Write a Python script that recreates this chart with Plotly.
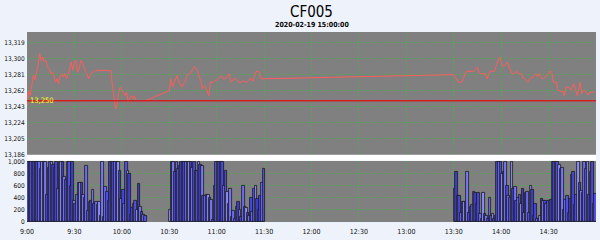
import plotly.graph_objects as go
import pandas as pd

# ---------------- data ----------------
title_text = "CF005"
subtitle_text = "2020-02-19 15:00:00"
prev_settle = 13250

price_ticks = [13186, 13205, 13224, 13243, 13262, 13281, 13300, 13319]
volume_ticks = [0, 200, 400, 600, 800, 1000]

# minute prices, session 1: 09:00 - 10:15
prices_s1 = [
    13244, 13262, 13256, 13268, 13280, 13275, 13284, 13292, 13306, 13298,
    13302, 13296, 13298, 13290, 13288, 13282, 13284, 13280, 13272, 13276,
    13270, 13280, 13282, 13278, 13282, 13276, 13280, 13290, 13296, 13286,
    13296, 13298, 13284, 13288, 13298, 13296, 13290, 13284, 13282, 13276,
    13280, 13284, 13284, 13286, 13286, 13286, 13286, 13286, 13286, 13286,
    13286, 13286, 13286, 13286, 13270, 13256, 13240, 13244, 13260, 13266,
    13262, 13258, 13256, 13260, 13248, 13254, 13256, 13252, 13256, 13250,
    13250, 13250, 13250, 13250, 13250, 13250,
]
# session 2: 10:30 - 11:30
prices_s2 = [
    13262, 13276, 13266, 13270, 13276, 13280, 13272, 13268, 13266, 13270,
    13272, 13278, 13282, 13282, 13284, 13288, 13291, 13288, 13285, 13278,
    13273, 13264, 13268, 13266, 13260, 13256, 13272, 13272, 13272, 13274,
    13274, 13276, 13278, 13280, 13276, 13276, 13277, 13280, 13282, 13272,
    13274, 13276, 13276, 13274, 13272, 13272, 13272, 13274, 13272, 13272,
    13274, 13276, 13276, 13273, 13280, 13285, 13285, 13284, 13276, 13276,
    13276,
]
# session 3: 13:30 - 14:59
prices_s3 = [
    13281, 13278, 13274, 13272, 13272, 13272, 13276, 13280, 13285, 13285,
    13285, 13285, 13285, 13285, 13288, 13290, 13284, 13282, 13282, 13282,
    13282, 13276, 13280, 13285, 13285, 13285, 13285, 13293, 13298, 13302,
    13296, 13291, 13291, 13293, 13296, 13290, 13286, 13282, 13282, 13283,
    13285, 13282, 13282, 13282, 13277, 13276, 13274, 13272, 13276, 13277,
    13278, 13280, 13282, 13278, 13282, 13279, 13276, 13277, 13278, 13280,
    13282, 13285, 13284, 13272, 13272, 13272, 13262, 13262, 13260, 13262,
    13256, 13266, 13266, 13266, 13262, 13266, 13270, 13264, 13256, 13262,
    13272, 13258, 13262, 13262, 13260, 13257, 13260, 13260, 13260, 13260,
]

# minute volumes (display capped at 1,000)
volumes_s1 = [
    1000, 1000, 1000, 1000, 1000, 1000, 1000, 1000, 870, 1000,
    1000, 1000, 450, 900, 1000, 1000, 950, 900, 1000, 550,
    1000, 1000, 1000, 750, 700, 1000, 1000, 600, 1000, 350,
    300, 450, 650, 650, 640, 450, 400, 930, 180, 320,
    350, 520, 300, 330, 280, 320, 100, 1000, 80, 570,
    500, 350, 1000, 1000, 1000, 1000, 1000, 1000, 850, 370,
    520, 300, 1000, 850, 800, 110, 220, 300, 350, 200,
    630, 240, 160, 110, 90,
]
volumes_s2 = [
    190, 1000, 1000, 820, 1000, 870, 920, 1000, 1000, 1000,
    1000, 1000, 1000, 1000, 900, 1000, 850, 850, 1000, 950,
    920, 430, 430, 450, 440, 400, 360, 30, 600, 1000,
    1000, 1000, 1000, 1000, 600, 850, 500, 300, 550, 80,
    170, 50, 250, 330, 200, 80, 600, 240, 230, 150,
    100, 400, 160, 540, 600, 380, 200, 420, 650, 880,
]
volumes_s3 = [
    540, 830, 420, 420, 150, 330, 320, 330, 820, 150,
    250, 280, 500, 480, 300, 480, 120, 50, 480, 120,
    100, 50, 400, 100, 130, 50, 90, 1000, 1000, 1000,
    800, 820, 1000, 600, 420, 400, 1000, 550, 580, 350,
    400, 450, 300, 540, 150, 480, 500, 150, 600, 530,
    100, 300, 50, 50, 100, 380, 350, 350, 300, 350,
    340, 360, 1000, 1000, 1000, 1000, 950, 880, 900, 200,
    360, 430, 150, 380, 780, 820, 280, 450, 1000, 650,
    510, 470, 1000, 870, 1000, 450, 820, 1000, 300, 460,
]

# ---------------- build ----------------
day = "2020-02-19 "
pt = (list(pd.date_range(day + "09:00", periods=len(prices_s1), freq="min"))
      + list(pd.date_range(day + "10:30", periods=len(prices_s2), freq="min"))
      + list(pd.date_range(day + "13:30", periods=len(prices_s3), freq="min")))
prices = prices_s1 + prices_s2 + prices_s3

vt = (list(pd.date_range(day + "09:00", periods=len(volumes_s1), freq="min"))
      + list(pd.date_range(day + "10:30", periods=len(volumes_s2), freq="min"))
      + list(pd.date_range(day + "13:30", periods=len(volumes_s3), freq="min")))
volumes = volumes_s1 + volumes_s2 + volumes_s3

palette = ["#4646e0", "#6a6af6", "#5252e8", "#8c8cff", "#3c3cd0", "#7676fa"]
bar_colors = [palette[i % len(palette)] for i in range(len(volumes))]

GRID = "#3cb83c"
GDASH = "1px,2px"
FONT = "Liberation Sans Narrow, DejaVu Sans Condensed, Arial Narrow, Liberation Sans, sans-serif"
xr = [day + "09:00", day + "15:00"]

fig = go.Figure()
fig.add_trace(go.Scatter(x=pt, y=prices, mode="lines",
                         line=dict(color="#ff5c5c", width=1),
                         xaxis="x", yaxis="y", hoverinfo="skip"))
fig.add_trace(go.Bar(x=vt, y=volumes, width=60000 * 1.7, offset=0,
                     marker=dict(color=bar_colors, line=dict(color="#1a1a1a", width=0.8)),
                     xaxis="x2", yaxis="y2", hoverinfo="skip"))

# white band between the two panels
fig.add_shape(type="rect", xref="paper", yref="paper", x0=0, x1=1, y0=0.323, y1=0.353,
              fillcolor="#ffffff", line=dict(width=0), layer="below")
fig.add_shape(type="line", xref="x domain", yref="y", x0=0, x1=1,
              y0=prev_settle, y1=prev_settle, line=dict(color="#d42020", width=1.5))
fig.add_annotation(xref="x domain", yref="y", x=0.002, y=prev_settle,
                   text=f"{prev_settle:,}", showarrow=False, xanchor="left", yanchor="middle",
                   font=dict(family=FONT, size=7.5, color="#ffff00"))

fig.add_annotation(xref="paper", yref="paper", x=0.5, y=1.104, text=title_text,
                   showarrow=False, xanchor="center", yanchor="middle",
                   font=dict(family=FONT, size=15, color="#000000"))
fig.add_annotation(xref="paper", yref="paper", x=0.5, y=1.036, text=f"<b>{subtitle_text}</b>",
                   showarrow=False, xanchor="center", yanchor="middle",
                   font=dict(family=FONT, size=7, color="#000000"))

common_x = dict(type="date", range=xr, tick0=day + "09:00", dtick=1800000,
                showgrid=True, gridcolor=GRID, griddash=GDASH, gridwidth=1,
                zeroline=False, showline=False, ticks="")
tickfont = dict(family=FONT, size=6.5, color="#111111")
fig.update_layout(
    width=600, height=240,
    margin=dict(l=25, r=4, t=32, b=16),
    paper_bgcolor="#eef3fb", plot_bgcolor="#808080",
    showlegend=False, bargap=0,
    xaxis=dict(domain=[0, 1], anchor="y", showticklabels=False, matches="x2", **common_x),
    xaxis2=dict(domain=[0, 1], anchor="y2", tickformat="%-H:%M", ticklabelstandoff=4,
                tickfont=dict(family=FONT, size=7, color="#111111"), **common_x),
    yaxis=dict(domain=[0.354, 1], range=[13185.5, 13331.8], tickvals=price_ticks,
               tickformat=",d", showgrid=True, gridcolor=GRID, griddash=GDASH,
               zeroline=False, showline=True, linecolor="#f4f4f4", linewidth=1,
               ticks="", tickfont=tickfont),
    yaxis2=dict(domain=[0, 0.322], range=[-8, 1010], tickvals=volume_ticks,
                tickformat=",d", showgrid=True, gridcolor=GRID, griddash=GDASH,
                zeroline=False,
                showline=True, linecolor="#f4f4f4", linewidth=1,
                ticks="", tickfont=tickfont),
)

fig.write_html("out.html")
